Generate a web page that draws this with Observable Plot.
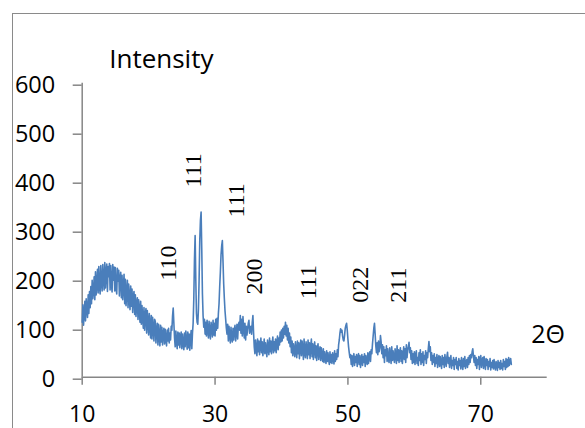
<!DOCTYPE html>
<html>
<head>
<meta charset="utf-8">
<script src="https://cdn.jsdelivr.net/npm/d3@7"></script>
<script src="https://cdn.jsdelivr.net/npm/@observablehq/plot@0.6"></script>
<style>
  html, body { margin: 0; padding: 0; background: #fff; }
  #wrap { position: relative; width: 585px; height: 428px; overflow: hidden; }
  #frame { position: absolute; left: 12px; top: 13px; width: 640px; height: 500px; border: 1.5px solid #8a8a8a; }
  #chart { position: absolute; left: 0; top: 0; }
  #chart svg { font-family: "Open Sans", sans-serif; }
</style>
</head>
<body>
<div id="wrap"><div id="frame"></div><div id="chart"></div></div>
<script>
const twoTheta = [
10.0,10.1,10.2,10.3,10.4,10.5,10.6,10.7,10.8,10.9,
11.0,11.1,11.2,11.3,11.4,11.5,11.6,11.7,11.8,11.9,
12.0,12.1,12.2,12.3,12.4,12.5,12.6,12.7,12.8,12.9,
13.0,13.1,13.2,13.3,13.4,13.5,13.6,13.7,13.8,13.9,
14.0,14.1,14.2,14.3,14.4,14.5,14.6,14.7,14.8,14.9,
15.0,15.1,15.2,15.3,15.4,15.5,15.6,15.7,15.8,15.9,
16.0,16.1,16.2,16.3,16.4,16.5,16.6,16.7,16.8,16.9,
17.0,17.1,17.2,17.3,17.4,17.5,17.6,17.7,17.8,17.9,
18.0,18.1,18.2,18.3,18.4,18.5,18.6,18.7,18.8,18.9,
19.0,19.1,19.2,19.3,19.4,19.5,19.6,19.7,19.8,19.9,
20.0,20.1,20.2,20.3,20.4,20.5,20.6,20.7,20.8,20.9,
21.0,21.1,21.2,21.3,21.4,21.5,21.6,21.7,21.8,21.9,
22.0,22.1,22.2,22.3,22.4,22.5,22.6,22.7,22.8,22.9,
23.0,23.1,23.2,23.3,23.4,23.5,23.6,23.7,23.8,23.9,
24.0,24.1,24.2,24.3,24.4,24.5,24.6,24.7,24.8,24.9,
25.0,25.1,25.2,25.3,25.4,25.5,25.6,25.7,25.8,25.9,
26.0,26.1,26.2,26.3,26.4,26.5,26.6,26.7,26.8,26.9,
27.0,27.1,27.2,27.3,27.4,27.5,27.6,27.7,27.8,27.9,
28.0,28.1,28.2,28.3,28.4,28.5,28.6,28.7,28.8,28.9,
29.0,29.1,29.2,29.3,29.4,29.5,29.6,29.7,29.8,29.9,
30.0,30.1,30.2,30.3,30.4,30.5,30.6,30.7,30.8,30.9,
31.0,31.1,31.2,31.3,31.4,31.5,31.6,31.7,31.8,31.9,
32.0,32.1,32.2,32.3,32.4,32.5,32.6,32.7,32.8,32.9,
33.0,33.1,33.2,33.3,33.4,33.5,33.6,33.7,33.8,33.9,
34.0,34.1,34.2,34.3,34.4,34.5,34.6,34.7,34.8,34.9,
35.0,35.1,35.2,35.3,35.4,35.5,35.6,35.7,35.8,35.9,
36.0,36.1,36.2,36.3,36.4,36.5,36.6,36.7,36.8,36.9,
37.0,37.1,37.2,37.3,37.4,37.5,37.6,37.7,37.8,37.9,
38.0,38.1,38.2,38.3,38.4,38.5,38.6,38.7,38.8,38.9,
39.0,39.1,39.2,39.3,39.4,39.5,39.6,39.7,39.8,39.9,
40.0,40.1,40.2,40.3,40.4,40.5,40.6,40.7,40.8,40.9,
41.0,41.1,41.2,41.3,41.4,41.5,41.6,41.7,41.8,41.9,
42.0,42.1,42.2,42.3,42.4,42.5,42.6,42.7,42.8,42.9,
43.0,43.1,43.2,43.3,43.4,43.5,43.6,43.7,43.8,43.9,
44.0,44.1,44.2,44.3,44.4,44.5,44.6,44.7,44.8,44.9,
45.0,45.1,45.2,45.3,45.4,45.5,45.6,45.7,45.8,45.9,
46.0,46.1,46.2,46.3,46.4,46.5,46.6,46.7,46.8,46.9,
47.0,47.1,47.2,47.3,47.4,47.5,47.6,47.7,47.8,47.9,
48.0,48.1,48.2,48.3,48.4,48.5,48.6,48.7,48.8,48.9,
49.0,49.1,49.2,49.3,49.4,49.5,49.6,49.7,49.8,49.9,
50.0,50.1,50.2,50.3,50.4,50.5,50.6,50.7,50.8,50.9,
51.0,51.1,51.2,51.3,51.4,51.5,51.6,51.7,51.8,51.9,
52.0,52.1,52.2,52.3,52.4,52.5,52.6,52.7,52.8,52.9,
53.0,53.1,53.2,53.3,53.4,53.5,53.6,53.7,53.8,53.9,
54.0,54.1,54.2,54.3,54.4,54.5,54.6,54.7,54.8,54.9,
55.0,55.1,55.2,55.3,55.4,55.5,55.6,55.7,55.8,55.9,
56.0,56.1,56.2,56.3,56.4,56.5,56.6,56.7,56.8,56.9,
57.0,57.1,57.2,57.3,57.4,57.5,57.6,57.7,57.8,57.9,
58.0,58.1,58.2,58.3,58.4,58.5,58.6,58.7,58.8,58.9,
59.0,59.1,59.2,59.3,59.4,59.5,59.6,59.7,59.8,59.9,
60.0,60.1,60.2,60.3,60.4,60.5,60.6,60.7,60.8,60.9,
61.0,61.1,61.2,61.3,61.4,61.5,61.6,61.7,61.8,61.9,
62.0,62.1,62.2,62.3,62.4,62.5,62.6,62.7,62.8,62.9,
63.0,63.1,63.2,63.3,63.4,63.5,63.6,63.7,63.8,63.9,
64.0,64.1,64.2,64.3,64.4,64.5,64.6,64.7,64.8,64.9,
65.0,65.1,65.2,65.3,65.4,65.5,65.6,65.7,65.8,65.9,
66.0,66.1,66.2,66.3,66.4,66.5,66.6,66.7,66.8,66.9,
67.0,67.1,67.2,67.3,67.4,67.5,67.6,67.7,67.8,67.9,
68.0,68.1,68.2,68.3,68.4,68.5,68.6,68.7,68.8,68.9,
69.0,69.1,69.2,69.3,69.4,69.5,69.6,69.7,69.8,69.9,
70.0,70.1,70.2,70.3,70.4,70.5,70.6,70.7,70.8,70.9,
71.0,71.1,71.2,71.3,71.4,71.5,71.6,71.7,71.8,71.9,
72.0,72.1,72.2,72.3,72.4,72.5,72.6,72.7,72.8,72.9,
73.0,73.1,73.2,73.3,73.4,73.5,73.6,73.7,73.8,73.9,
74.0,74.1,74.2,74.3,74.4,74.5,74.6
];
const intensity = [
112,148,106,130,155,115,160,138,122,168,
130,175,142,185,150,198,160,176,205,158,
215,168,190,220,172,226,185,170,228,195,
176,230,200,178,234,182,215,231,175,226,
205,232,178,228,190,174,230,198,225,176,
224,180,170,222,196,218,166,200,214,162,
208,158,185,210,150,200,146,172,198,142,
190,160,138,186,145,180,132,165,175,128,
168,124,150,162,118,158,136,112,155,108,
146,120,100,142,96,128,140,90,136,112,
86,130,106,80,126,78,122,100,74,118,
114,70,96,110,66,108,85,64,106,72,
102,66,88,100,68,98,78,64,96,74,
100,70,90,76,104,96,125,141,110,80,
62,94,72,58,92,66,90,60,84,92,
58,88,70,56,90,62,94,76,57,92,
60,88,55,80,95,58,90,110,160,240,
289,200,130,112,108,140,200,280,320,337,
260,170,125,102,118,88,112,84,116,96,
80,114,92,78,112,100,82,116,86,110,
84,118,96,120,100,130,150,185,215,250,
268,279,235,190,160,135,118,100,88,108,
74,104,86,70,102,80,72,100,76,96,
106,74,92,108,78,104,112,96,126,90,
118,84,124,100,80,110,76,104,86,98,
110,116,90,96,104,88,112,126,90,62,
48,76,58,44,78,52,74,46,66,80,
50,72,44,62,78,48,70,56,42,76,
60,46,80,52,74,48,68,82,50,72,
54,78,50,70,84,56,80,66,92,72,
96,74,100,80,104,88,112,84,106,76,
100,70,90,62,82,50,74,44,68,56,
42,72,54,40,74,48,70,38,62,76,
44,74,58,36,78,50,40,72,56,38,
76,46,70,38,64,78,42,68,36,60,
72,40,64,34,58,68,36,52,62,34,
60,44,32,58,30,52,40,28,54,32,
50,36,26,52,30,46,28,50,38,27,
54,32,48,36,56,42,66,76,90,99,
92,96,84,76,74,86,100,106,110,96,
78,62,50,40,46,26,44,22,38,48,
24,42,30,46,22,40,48,26,44,20,
36,46,24,42,30,48,22,44,34,26,
50,28,44,52,32,56,48,68,84,100,
110,88,64,50,70,46,74,52,60,85,
72,48,66,40,62,30,56,44,64,32,
58,36,30,60,44,28,62,34,54,40,
30,58,46,28,64,34,56,30,50,60,
32,54,28,46,62,36,58,30,66,40,
56,62,71,50,60,36,54,28,48,30,
52,26,44,54,28,40,24,50,34,56,
26,48,30,52,24,44,36,54,28,50,
40,58,73,52,62,34,50,26,44,30,
48,22,40,28,46,20,36,44,22,42,
30,18,44,26,40,20,46,32,22,42,
51,28,40,20,36,44,18,34,24,40,
16,36,26,40,18,32,15,38,24,34,
17,40,28,16,38,22,42,18,30,36,
20,40,26,44,30,46,40,52,58,42,
30,44,24,40,18,36,26,42,16,38,
44,20,34,40,18,42,28,16,38,24,
36,16,32,22,38,15,30,20,34,17,
36,22,15,32,26,14,34,20,30,16,
34,18,28,15,36,22,32,16,38,20,
36,22,40,24,34,38,26
];
const peakLabels = ["110", "111", "111", "200", "111", "022", "211"];
const peakTheta = [23.0, 26.8, 33.2, 35.9, 44.0, 51.9, 57.6];
const peakLabelBase = [197, 387, 326, 169, 159, 152, 152];
const xTicks = [10, 30, 50, 70];
const yTicks = [0, 100, 200, 300, 400, 500, 600];

const pattern = twoTheta.map((t, i) => ({t, v: intensity[i]}));
const peaks = peakLabels.map((label, i) => ({label, t: peakTheta[i], v: peakLabelBase[i]}));

const axisGray = "#868686";
const sans = "Open Sans";
const serifFont = "Liberation Serif";
const chart = Plot.plot({
  width: 585,
  height: 428,
  marginLeft: 81.7,
  marginRight: 38.3,
  marginTop: 82.7,
  marginBottom: 51.3,
  x: {domain: [10, 80]},
  y: {domain: [0, 600]},
  style: {color: "#000", background: "transparent", overflow: "visible"},
  marks: [
    Plot.ruleX([10], {stroke: axisGray, strokeWidth: 1.5}),
    Plot.ruleY([0], {x1: 10, x2: 80, stroke: axisGray, strokeWidth: 1.5}),
    Plot.axisY({ticks: yTicks, tickSize: 9, tickPadding: 18, fontSize: 23.5, fontFamily: sans, stroke: axisGray, strokeWidth: 1.5, label: null, dy: 2}),
    Plot.axisX({ticks: xTicks, tickSize: 8, tickPadding: 20, fontSize: 23, fontFamily: sans, stroke: axisGray, strokeWidth: 1.5, label: null}),
    Plot.line(pattern, {x: "t", y: "v", stroke: "#4a7ebb", strokeWidth: 1.6}),
    Plot.text(peaks, {x: "t", y: "v", text: "label", rotate: -90, textAnchor: "start", lineAnchor: "middle",
      fontFamily: serifFont, fontSize: 24, fill: "#000", ariaLabel: "peak-text"}),
    Plot.text(["Intensity"], {frameAnchor: "top-left", lineAnchor: "middle", dx: 27, dy: -24, textAnchor: "start", fontSize: 26, fontFamily: sans, fill: "#000"}),
    Plot.text(["2Θ"], {frameAnchor: "top-left", lineAnchor: "middle", dx: 449, dy: 252, textAnchor: "start", fontSize: 25, fontFamily: sans, fill: "#000"})
  ]
});
d3.select(chart).selectAll('g[aria-label="peak-text"] text')
  .style("font-family", "'Liberation Serif', serif");
document.getElementById("chart").appendChild(chart);
</script>
</body>
</html>
